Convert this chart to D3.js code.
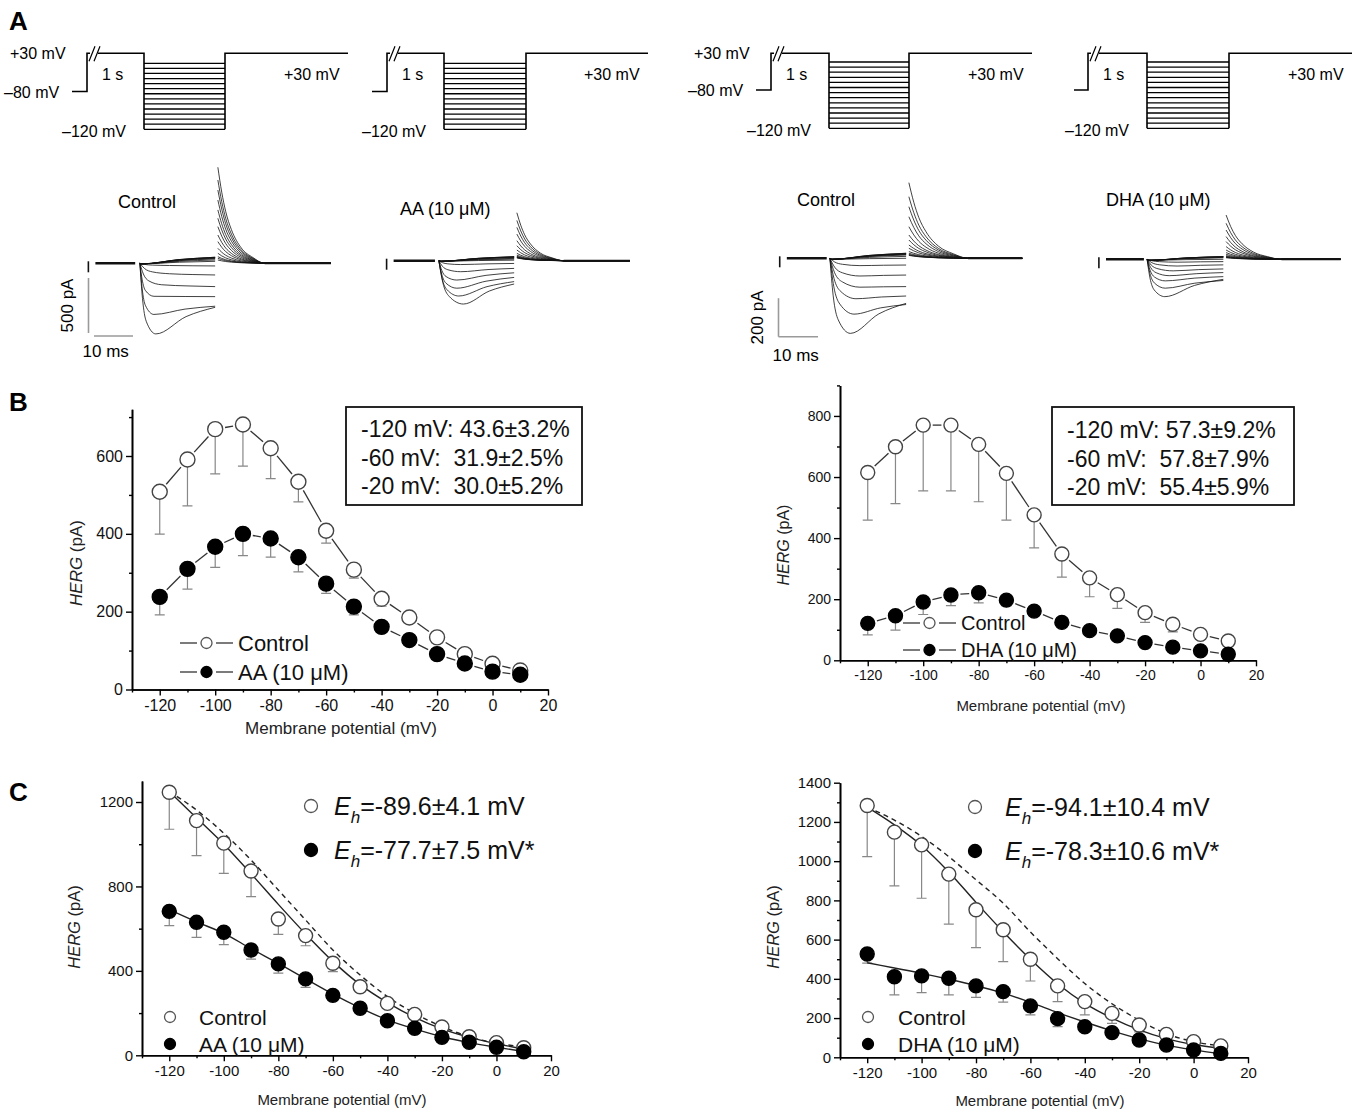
<!DOCTYPE html>
<html>
<head>
<meta charset="utf-8">
<script src="https://cdn.jsdelivr.net/npm/d3@7"></script>
<style>
  body { margin: 0; background: #fff; }
  svg { font-family: Arial, "Liberation Sans", Helvetica, sans-serif; }
  text { white-space: pre; }
</style>
</head>
<body>
<svg id="fig" width="1354" height="1110"></svg>
<script>
// ---------- data ----------
const steps = [-120, -110, -100, -90, -80, -70, -60, -50, -40, -30, -20, -10, 0, 10];

// panel A: representative currents (pA) at each step: peak, time of peak (ms), end of step, tail peak
const aaCtlPeak = [-642, -465, -300, -195, -95, -20, -5, -5, -5, -5, -5, -5, -5, -5];
const aaCtlPeakT = [4.5, 4, 4, 6, 8, 8, 1, 1, 1, 1, 1, 1, 1, 1];
const aaCtlEnd = [-400, -390, -303, -212, -106, -24, 18, 30, 40, 45, 50, 52, 55, 55];
const aaCtlTail = [873, 757, 666, 575, 485, 409, 333, 257, 197, 136, 91, 60, 45, 30];

const aaDrugPeak = [-394, -321, -250, -176, -100, -35, -5, -5, -5, -5, -5, -5, -5, -5];
const aaDrugPeakT = [6.7, 5.5, 5, 5, 6, 6, 1, 1, 1, 1, 1, 1, 1, 1];
const aaDrugEnd = [-212, -190, -152, -110, -70, -25, 5, 15, 21, 28, 32, 34, 36, 36];
const aaDrugTail = [436, 366, 303, 242, 182, 136, 97, 67, 50, 40, 35, 30, 28, 25];

const dhaCtlPeak = [-390, -290, -210, -150, -92, -38, -5, -5, -5, -5, -5, -5, -5, -5];
const dhaCtlPeakT = [5.6, 6.5, 7, 8, 8, 8, 1, 1, 1, 1, 1, 1, 1, 1];
const dhaCtlEnd = [-234, -240, -196, -147, -87, -35, 0, 10, 17, 20, 22, 24, 26, 26];
const dhaCtlTail = [393, 320, 268, 216, 164, 121, 95, 69, 52, 35, 26, 20, 17, 15];

const dhaDrugPeak = [-194, -150, -112, -85, -60, -35, -15, -5, -5, -5, -5, -5, -5, -5];
const dhaDrugPeakT = [4.9, 5, 5, 6, 7, 8, 8, 1, 1, 1, 1, 1, 1, 1];
const dhaDrugEnd = [-104, -110, -90, -69, -50, -29, -12, 0, 8, 10, 12, 14, 14, 14];
const dhaDrugTail = [230, 187, 152, 118, 92, 66, 48, 35, 26, 19, 15, 12, 10, 8];

// tail decay template (fraction of decay time, fraction of peak)
const tailShapeT = [0, 0.083, 0.167, 0.29, 0.5, 0.75, 1];
const tailShapeF = [1, 0.74, 0.54, 0.35, 0.16, 0.06, 0];

// panel B: step current (pA), mean and SEM
const bAACtl = [508, 591, 669, 681, 620, 534, 408, 308, 233, 185, 134, 91, 66, 49];
const bAACtlErr = [109, 119, 115, 107, 78, 52, 32, 22, 19, 12, 10, 8, 6, 5];
const bAA = [238, 310, 367, 400, 388, 340, 272, 213, 161, 127, 91, 67, 46, 38];
const bAAErr = [46, 52, 53, 56, 48, 38, 25, 21, 12, 10, 8, 6, 5, 4];
const bDHACtl = [615, 699, 770, 770, 707, 612, 476, 348, 270, 215, 156, 118, 85, 63];
const bDHACtlErr = [156, 186, 215, 215, 188, 153, 108, 76, 62, 45, 32, 25, 15, 10];
const bDHA = [121, 146, 191, 214, 221, 197, 161, 124, 97, 80, 58, 43, 31, 20];
const bDHAErr = [38, 47, 41, 35, 33, 19, 12, 10, 8, 7, 6, 5, 4, 3];
const bAABox = ["-120 mV: 43.6\u00b13.2%", "-60 mV:  31.9\u00b12.5%", "-20 mV:  30.0\u00b15.2%"];
const bDHABox = ["-120 mV: 57.3\u00b19.2%", "-60 mV:  57.8\u00b17.9%", "-20 mV:  55.4\u00b15.9%"];

// panel C: tail current (pA), mean, SEM and fitted curves
const cAACtl = [1246, 1112, 1005, 873, 646, 567, 436, 325, 246, 194, 134, 88, 60, 36];
const cAACtlErr = [175, 166, 143, 121, 73, 48, 40, 25, 20, 15, 12, 10, 8, 6];
const cAA = [682, 630, 583, 499, 433, 362, 284, 223, 164, 128, 85, 62, 38, 17];
const cAAErr = [68, 71, 59, 43, 44, 40, 25, 20, 15, 12, 10, 8, 6, 4];
const cAACtlFit = [1250, 1125, 1000, 860, 715, 575, 445, 335, 250, 180, 125, 85, 55, 30];
const cAAFit = [690, 632, 578, 505, 435, 362, 290, 225, 168, 125, 88, 60, 38, 18];
const cAANorm = [1250, 1162, 1052, 925, 783, 641, 499, 380, 278, 199, 136, 88, 57, 41];

const cDHACtl = [1284, 1148, 1083, 934, 752, 650, 500, 364, 284, 224, 165, 117, 80, 58];
const cDHACtlErr = [261, 274, 272, 255, 193, 162, 111, 80, 68, 51, 35, 25, 15, 10];
const cDHA = [527, 411, 415, 403, 364, 335, 262, 197, 156, 126, 88, 63, 37, 20];
const cDHAErr = [47, 93, 85, 85, 58, 54, 46, 41, 22, 12, 10, 8, 6, 4];
const cDHACtlFit = [1275, 1185, 1080, 945, 790, 640, 500, 375, 275, 200, 140, 95, 65, 45];
const cDHAFit = [482, 455, 428, 398, 365, 327, 280, 228, 180, 135, 95, 62, 38, 18];
const cDHANorm = [1275, 1209, 1126, 1023, 905, 786, 639, 503, 376, 273, 189, 120, 80, 58];

const xMajor = [-120, -100, -80, -60, -40, -20, 0, 20];
const xMinor = [-130, -110, -90, -70, -50, -30, -10, 10];

// ---------- drawing ----------
const svg = d3.select("#fig");

svg.selectAll(".panel-letter")
  .data([["A", 30], ["B", 411], ["C", 801]])
  .join("text")
  .attr("x", 9).attr("y", (d) => d[1])
  .attr("font-size", 26).attr("font-weight", "bold")
  .text((d) => d[0]);

// voltage protocol drawing
function drawProtocol(p) {
  const g = svg.append("g").attr("fill", "none").attr("stroke", "#000").attr("stroke-width", 1.6);
  const stepY = d3.scaleLinear().domain([-120, 10]).range([p.yBot, p.yStepTop]);
  g.append("path").attr("d", `M${p.x0},${p.yHold}H${p.xUp}V${p.yTop}H${p.xUp + 3}`);
  g.append("path").attr("d", `M${p.xUp + 2},${p.yTop + 8}L${p.xUp + 8},${p.yTop - 7}M${p.xUp + 7},${p.yTop + 8}L${p.xUp + 13},${p.yTop - 7}`)
    .attr("stroke-width", 1.2);
  g.append("path").attr("d", `M${p.xUp + 11},${p.yTop}H${p.xBoxL}V${stepY(-120)}`);
  g.append("path").attr("d", `M${p.xBoxR},${stepY(-120)}V${p.yTop}H${p.xEnd}`);
  g.selectAll(".step")
    .data(steps)
    .join("line")
    .attr("x1", p.xBoxL).attr("x2", p.xBoxR)
    .attr("y1", (d) => stepY(d)).attr("y2", (d) => stepY(d))
    .attr("stroke-width", 1.3);

  const t = svg.append("g").attr("font-size", 16);
  if (p.holdLabels) {
    t.append("text").attr("x", p.x0 - 62).attr("y", p.yTop + 6).text("+30 mV");
    t.append("text").attr("x", p.x0 - 68).attr("y", p.yHold + 6).text("\u201380 mV");
  }
  t.append("text").attr("x", p.xUp + 15).attr("y", p.yTop + 27).text("1 s");
  t.append("text").attr("x", p.xEnd - 64).attr("y", p.yTop + 27).text("+30 mV");
  t.append("text").attr("x", p.xBoxL - 82).attr("y", p.yBot + 8).text("\u2013120 mV");
}

drawProtocol({ x0: 72, xUp: 87, xBoxL: 144, xBoxR: 225, xEnd: 348, yHold: 91.5, yTop: 53.3, yStepTop: 63.3, yBot: 129.3, holdLabels: true });
drawProtocol({ x0: 372, xUp: 387, xBoxL: 444, xBoxR: 526, xEnd: 648, yHold: 91.5, yTop: 53.3, yStepTop: 63.3, yBot: 129.3 });
drawProtocol({ x0: 756, xUp: 771, xBoxL: 829, xBoxR: 909, xEnd: 1032, yHold: 90, yTop: 53.3, yStepTop: 62, yBot: 128.3, holdLabels: true });
drawProtocol({ x0: 1074, xUp: 1088, xBoxL: 1147, xBoxR: 1229, xEnd: 1352, yHold: 90, yTop: 53.3, yStepTop: 62, yBot: 128.3 });

// current traces
function drawTraces(o, peak, peakT, end, tail) {
  const x = d3.scaleLinear().domain([0, 10]).range([o.x0, o.x0 + o.px10ms]);
  const y = d3.scaleLinear().domain([0, o.barPA]).range([o.base, o.base - o.barPx]);
  const line = d3.line().x((d) => x(d[0])).y((d) => y(d[1])).curve(d3.curveMonotoneX);
  const g = svg.append("g").attr("fill", "none").attr("stroke", "#111").attr("stroke-width", 0.8);

  // holding segment before the step
  g.append("line").attr("x1", x(o.holdT[0])).attr("x2", x(o.holdT[1]))
    .attr("y1", y(0)).attr("y2", y(0)).attr("stroke-width", 2.4);
  g.append("path").attr("d", `M${x(o.holdT[0] - 1.8)},${y(0) - 2}V${y(0) + 9}`).attr("stroke-width", 1.6);

  steps.forEach((s, i) => {
    const p = peak[i], tp = peakT[i], e = end[i];
    const pts = [[0.4, 0], [0.4 + tp * 0.15, p * 0.5], [tp * 0.45, p * 0.82], [tp, p],
      [tp + (20 - tp) * 0.5, p + (e - p) * 0.65], [19.7, e]];
    g.append("path").attr("d", line(pts));
    const tpts = tailShapeT.map((f, k) => [20.4 + f * o.tailDur, tail[i] * tailShapeF[k]]);
    tpts.push([20.4 + o.tailLen, 0]);
    g.append("path").attr("d", line(tpts));
  });
  g.append("line").attr("x1", x(20.4 + o.tailDur)).attr("x2", x(20.4 + o.tailLen))
    .attr("y1", y(0)).attr("y2", y(0)).attr("stroke-width", 2);

  if (o.bar) {
    const b = svg.append("g").attr("stroke", "#9a9a9a").attr("stroke-width", 1.6);
    b.append("line").attr("x1", o.bar.x).attr("x2", o.bar.x)
      .attr("y1", o.bar.y).attr("y2", o.bar.y - o.barPx);
    b.append("line").attr("x1", o.bar.x + o.bar.hx).attr("x2", o.bar.x + o.bar.hx + o.px10ms)
      .attr("y1", o.bar.y + o.bar.hy).attr("y2", o.bar.y + o.bar.hy);
    svg.append("text").attr("font-size", 17).attr("text-anchor", "middle")
      .attr("transform", `translate(${o.bar.x - 16},${o.bar.y - o.barPx / 2}) rotate(-90)`)
      .text(o.bar.label);
    svg.append("text").attr("font-size", 17).attr("x", o.bar.x - 6).attr("y", o.bar.y + 24).text("10 ms");
  }
  svg.append("text").attr("font-size", 18).attr("x", o.labelX).attr("y", o.labelY).text(o.label);
}

drawTraces({ x0: 138.3, px10ms: 39, base: 263.3, barPA: 500, barPx: 55, holdT: [-11, -0.8], tailDur: 12, tailLen: 29,
  label: "Control", labelX: 118, labelY: 208,
  bar: { x: 88.5, y: 333, hx: 5.5, hy: 3, label: "500 pA" } }, aaCtlPeak, aaCtlPeakT, aaCtlEnd, aaCtlTail);
drawTraces({ x0: 437.3, px10ms: 39, base: 260.7, barPA: 500, barPx: 55, holdT: [-11.2, -0.6], tailDur: 12, tailLen: 29,
  label: "AA (10 \u03bcM)", labelX: 400, labelY: 215 }, aaDrugPeak, aaDrugPeakT, aaDrugEnd, aaDrugTail);
drawTraces({ x0: 828.3, px10ms: 39.5, base: 258.3, barPA: 200, barPx: 38.5, holdT: [-10.5, -0.4], tailDur: 15, tailLen: 28.7,
  label: "Control", labelX: 797, labelY: 206,
  bar: { x: 778.5, y: 336.7, hx: 0, hy: 0, label: "200 pA" } }, dhaCtlPeak, dhaCtlPeakT, dhaCtlEnd, dhaCtlTail);
drawTraces({ x0: 1145.5, px10ms: 39.5, base: 259.3, barPA: 200, barPx: 38.5, holdT: [-10, -0.4], tailDur: 14, tailLen: 29,
  label: "DHA (10 \u03bcM)", labelX: 1106, labelY: 206 }, dhaDrugPeak, dhaDrugPeakT, dhaDrugEnd, dhaDrugTail);

// I-V panels
function ivPanel(o) {
  const x = d3.scaleLinear().domain([-130, 20]).range([o.x0, o.x1]);
  const y = d3.scaleLinear().domain([0, o.yMax]).range([o.y0, o.y1]);
  const g = svg.append("g");

  const style = (sel, fs) => {
    sel.select(".domain").attr("stroke-width", 1.6);
    sel.selectAll(".tick line").attr("stroke-width", 1.4);
    sel.selectAll(".tick text").attr("font-size", fs).attr("font-family", null).attr("fill", "#111");
  };
  g.append("g").attr("transform", `translate(0,${o.y0})`)
    .call(d3.axisBottom(x).tickValues(xMinor).tickSize(3).tickSizeOuter(0).tickFormat(""))
    .call((s) => style(s, o.tickFs));
  g.append("g").attr("transform", `translate(0,${o.y0})`)
    .call(d3.axisBottom(x).tickValues(xMajor).tickSize(6).tickSizeOuter(0).tickPadding(4).tickFormat((d) => String(d)))
    .call((s) => style(s, o.tickFs));
  g.append("g").attr("transform", `translate(${o.x0},0)`)
    .call(d3.axisLeft(y).tickValues(o.yMinor).tickSize(3).tickSizeOuter(0).tickFormat(""))
    .call((s) => style(s, o.tickFs));
  g.append("g").attr("transform", `translate(${o.x0},0)`)
    .call(d3.axisLeft(y).tickValues(o.yMajor).tickSize(6).tickSizeOuter(0).tickPadding(3).tickFormat((d) => String(d)))
    .call((s) => style(s, o.tickFs));

  g.append("text").attr("x", o.xTitle[0]).attr("y", o.xTitle[1]).attr("text-anchor", "middle")
    .attr("font-size", o.titleFs).attr("fill", "#222").text("Membrane potential (mV)");
  const yt = g.append("text").attr("text-anchor", "middle").attr("font-size", o.yTitleFs).attr("fill", "#222")
    .attr("transform", `translate(${o.yTitle[0]},${o.yTitle[1]}) rotate(-90)`);
  yt.append("tspan").attr("font-style", "italic").text("HERG");
  yt.append("tspan").text(" (pA)");
  return { g, x, y };
}

function errorBars(p, vals, errs) {
  const cap = 5;
  p.g.append("g").attr("stroke", "#888").attr("stroke-width", 1.2)
    .selectAll("path").data(vals).join("path")
    .attr("d", (v, i) => {
      const cx = p.x(steps[i]), lo = p.y(v - errs[i]);
      return `M${cx},${p.y(v)}V${lo}M${cx - cap},${lo}H${cx + cap}`;
    });
}

function markers(p, vals, filled, r) {
  p.g.append("g").selectAll("circle").data(vals).join("circle")
    .attr("cx", (v, i) => p.x(steps[i])).attr("cy", (v) => p.y(v)).attr("r", r)
    .attr("fill", filled ? "#000" : "#fff").attr("stroke", filled ? "#000" : "#444").attr("stroke-width", 1.4);
}

function gappedLine(p, vals, gap) {
  const pts = vals.map((v, i) => [p.x(steps[i]), p.y(v)]);
  p.g.append("g").attr("stroke", "#333").attr("stroke-width", 1.3)
    .selectAll("line").data(d3.pairs(pts)).join("line")
    .each(function ([a, b]) {
      const dx = b[0] - a[0], dy = b[1] - a[1], len = Math.hypot(dx, dy);
      const ux = dx / len, uy = dy / len;
      d3.select(this)
        .attr("x1", a[0] + ux * gap).attr("y1", a[1] + uy * gap)
        .attr("x2", b[0] - ux * gap).attr("y2", b[1] - uy * gap);
    });
}

function fitCurve(p, vals, dashed) {
  const line = d3.line().x((v, i) => p.x(steps[i])).y((v) => p.y(v)).curve(d3.curveMonotoneX);
  p.g.append("path").attr("d", line(vals)).attr("fill", "none").attr("stroke", "#222")
    .attr("stroke-width", 1.4).attr("stroke-dasharray", dashed ? "5,4" : null);
}

function lineLegend(p, x, y, filled, label, fs) {
  const g = p.g.append("g").attr("stroke", "#333").attr("stroke-width", 1.3);
  g.append("line").attr("x1", x).attr("x2", x + 17).attr("y1", y).attr("y2", y);
  g.append("line").attr("x1", x + 36).attr("x2", x + 53).attr("y1", y).attr("y2", y);
  p.g.append("circle").attr("cx", x + 26.5).attr("cy", y).attr("r", 5.5)
    .attr("fill", filled ? "#000" : "#fff").attr("stroke", filled ? "#000" : "#555").attr("stroke-width", 1.3);
  p.g.append("text").attr("x", x + 58).attr("y", y + fs * 0.36).attr("font-size", fs).attr("fill", "#111").text(label);
}

function dotLegend(p, x, y, filled, label, fs, r, tx) {
  p.g.append("circle").attr("cx", x).attr("cy", y).attr("r", r)
    .attr("fill", filled ? "#000" : "#fff").attr("stroke", filled ? "#000" : "#555").attr("stroke-width", 1.3);
  p.g.append("text").attr("x", tx).attr("y", y + fs * 0.36).attr("font-size", fs).attr("fill", "#111").text(label);
}

function ehLegend(p, x, y, filled, value, tx) {
  p.g.append("circle").attr("cx", x).attr("cy", y).attr("r", 6.5)
    .attr("fill", filled ? "#000" : "#fff").attr("stroke", filled ? "#000" : "#555").attr("stroke-width", 1.3);
  const t = p.g.append("text").attr("x", tx).attr("y", y + 9).attr("font-size", 25).attr("fill", "#111");
  t.append("tspan").attr("font-style", "italic").text("E");
  t.append("tspan").attr("font-style", "italic").attr("font-size", 17).attr("dy", 8).text("h");
  t.append("tspan").attr("dy", -8).text(value);
}

function boxLegend(p, b, lines) {
  p.g.append("rect").attr("x", b.x).attr("y", b.y).attr("width", b.w).attr("height", b.h)
    .attr("fill", "#fff").attr("stroke", "#111").attr("stroke-width", 1.8);
  p.g.selectAll(".box-line").data(lines).join("text")
    .attr("x", b.x + b.pad).attr("y", (d, i) => b.y + b.first + i * 28.5)
    .attr("font-size", 23).attr("fill", "#111").text((d) => d);
}

// ---- B left (AA)
const pBL = ivPanel({ x0: 132, x1: 548, y0: 689.5, y1: 409.3, yMax: 720,
  yMajor: [0, 200, 400, 600], yMinor: [100, 300, 500, 700], tickFs: 16, titleFs: 17, yTitleFs: 17,
  xTitle: [341, 734], yTitle: [82, 563] });
errorBars(pBL, bAACtl, bAACtlErr);
errorBars(pBL, bAA, bAAErr);
gappedLine(pBL, bAACtl, 10);
gappedLine(pBL, bAA, 10);
markers(pBL, bAACtl, false, 7.5);
markers(pBL, bAA, true, 7.5);
boxLegend(pBL, { x: 346, y: 407, w: 236, h: 98, pad: 15, first: 30 }, bAABox);
lineLegend(pBL, 180, 643, false, "Control", 22);
lineLegend(pBL, 180, 672, true, "AA (10 \u03bcM)", 22);

// ---- B right (DHA)
const pBR = ivPanel({ x0: 840, x1: 1256, y0: 660.3, y1: 385.4, yMax: 900,
  yMajor: [0, 200, 400, 600, 800], yMinor: [100, 300, 500, 700, 900], tickFs: 14, titleFs: 15, yTitleFs: 16,
  xTitle: [1041, 711], yTitle: [789, 545] });
errorBars(pBR, bDHACtl, bDHACtlErr);
errorBars(pBR, bDHA, bDHAErr);
gappedLine(pBR, bDHACtl, 9.5);
gappedLine(pBR, bDHA, 9.5);
markers(pBR, bDHACtl, false, 7);
markers(pBR, bDHA, true, 7);
boxLegend(pBR, { x: 1052, y: 407, w: 242, h: 98, pad: 15, first: 31 }, bDHABox);
lineLegend(pBR, 903, 623, false, "Control", 20);
lineLegend(pBR, 903, 650, true, "DHA (10 \u03bcM)", 20);

// ---- C left (AA)
const pCL = ivPanel({ x0: 142, x1: 551, y0: 1055.3, y1: 780.9, yMax: 1300,
  yMajor: [0, 400, 800, 1200], yMinor: [200, 600, 1000], tickFs: 15, titleFs: 15, yTitleFs: 16.5,
  xTitle: [342, 1105], yTitle: [80, 927] });
errorBars(pCL, cAACtl, cAACtlErr);
errorBars(pCL, cAA, cAAErr);
fitCurve(pCL, cAANorm, true);
fitCurve(pCL, cAACtlFit, false);
fitCurve(pCL, cAAFit, false);
markers(pCL, cAACtl, false, 7);
markers(pCL, cAA, true, 7);
ehLegend(pCL, 311, 806, false, "=-89.6\u00b14.1 mV", 334);
ehLegend(pCL, 311, 850, true, "=-77.7\u00b17.5 mV*", 334);
dotLegend(pCL, 170, 1017, false, "Control", 21, 5.5, 199);
dotLegend(pCL, 170, 1044, true, "AA (10 \u03bcM)", 21, 5.5, 199);

// ---- C right (DHA)
const pCR = ivPanel({ x0: 840, x1: 1248, y0: 1057.3, y1: 782.7, yMax: 1400,
  yMajor: [0, 200, 400, 600, 800, 1000, 1200, 1400], yMinor: [100, 300, 500, 700, 900, 1100, 1300], tickFs: 15, titleFs: 15, yTitleFs: 16.5,
  xTitle: [1040, 1106], yTitle: [779, 927] });
errorBars(pCR, cDHACtl, cDHACtlErr);
errorBars(pCR, cDHA, cDHAErr);
fitCurve(pCR, cDHANorm, true);
fitCurve(pCR, cDHACtlFit, false);
fitCurve(pCR, cDHAFit, false);
markers(pCR, cDHACtl, false, 7);
markers(pCR, cDHA, true, 7);
ehLegend(pCR, 975, 807, false, "=-94.1\u00b110.4 mV", 1005);
ehLegend(pCR, 975, 851, true, "=-78.3\u00b110.6 mV*", 1005);
dotLegend(pCR, 868, 1017, false, "Control", 21, 5.5, 898);
dotLegend(pCR, 868, 1044, true, "DHA (10 \u03bcM)", 21, 5.5, 898);
</script>
</body>
</html>
